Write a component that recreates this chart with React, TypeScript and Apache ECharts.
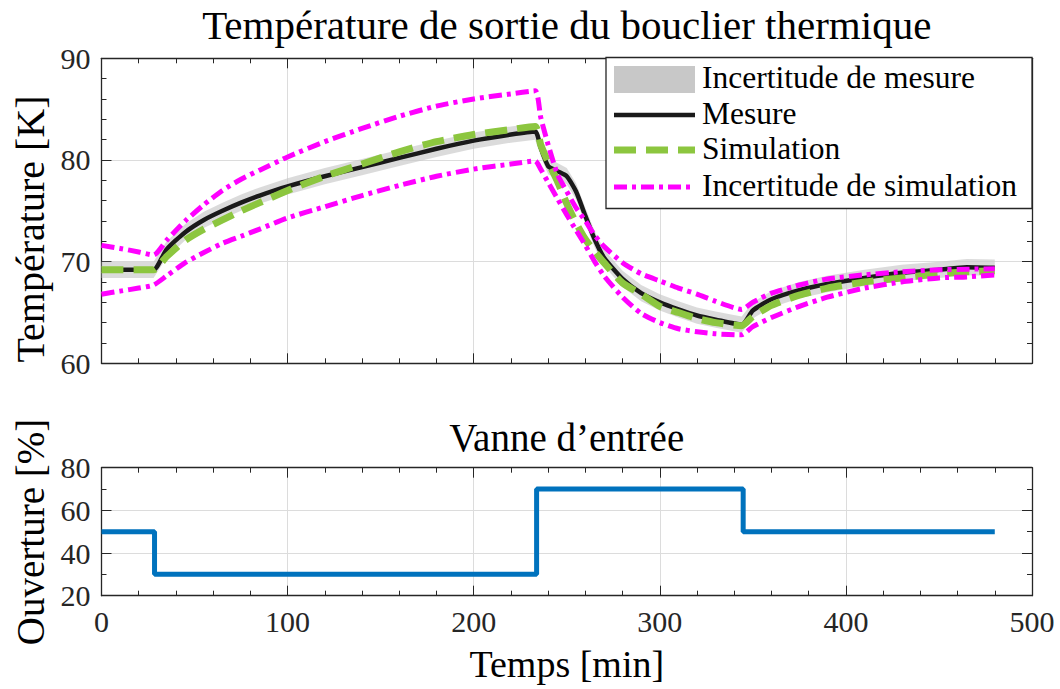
import React, { useEffect, useRef } from "react";
import * as echarts from "echarts";

// ---- Data ----
const times = [0, 10, 20, 28, 35, 45, 55, 65, 75, 85, 100, 120, 140, 160, 180, 200, 220, 233, 236, 240, 245, 250, 255, 260, 265, 270, 280, 290, 300, 310, 320, 330, 344, 350, 360, 375, 390, 410, 430, 450, 465, 480];
const measure = [69.2, 69.2, 69.2, 69.2, 71.2, 72.9, 74.1, 75.0, 75.8, 76.5, 77.4, 78.4, 79.3, 80.2, 81.1, 81.9, 82.5, 82.8, 81.2, 79.4, 78.9, 78.4, 76.9, 74.5, 72.2, 70.4, 68.3, 66.9, 66.0, 65.3, 64.7, 64.3, 63.8, 65.2, 66.3, 67.2, 67.8, 68.4, 68.9, 69.2, 69.45, 69.4];
const simulation = [69.2, 69.2, 69.2, 69.2, 70.5, 72.1, 73.2, 74.1, 75.0, 75.8, 77.0, 78.4, 79.6, 80.8, 81.8, 82.5, 83.0, 83.3, 81.5, 79.8, 77.9, 75.7, 73.8, 72.2, 71.0, 69.9, 67.9, 66.8, 65.6, 65.0, 64.4, 64.0, 63.7, 64.6, 65.7, 66.7, 67.4, 68.0, 68.4, 68.8, 69.0, 69.1];
const simUpper = [71.6, 71.3, 70.95, 70.65, 72.1, 74.0, 75.6, 77.0, 78.1, 79.0, 80.3, 81.8, 83.1, 84.3, 85.3, 86.0, 86.5, 86.8, 84.2, 81.5, 78.6, 76.9, 75.3, 74.0, 72.6, 71.5, 69.9, 68.8, 68.1, 67.4, 66.8, 66.1, 65.3, 66.0, 66.9, 67.7, 68.3, 68.7, 69.0, 69.2, 69.25, 69.3];
const simLower = [66.8, 67.1, 67.4, 67.7, 68.6, 69.9, 70.9, 71.8, 72.5, 73.2, 74.3, 75.4, 76.5, 77.5, 78.4, 79.1, 79.6, 79.9, 79.1, 77.8, 76.2, 74.6, 73.1, 71.6, 70.0, 68.6, 66.5, 64.9, 64.0, 63.4, 63.1, 62.9, 62.8, 63.6, 64.5, 65.6, 66.5, 67.4, 68.0, 68.4, 68.5, 68.7];
const measureUncertainty = 0.8; // ± K

const valveTimes = [0, 28.5, 233.8, 344.8, 480];
const valveOpening = [50, 30, 70, 50, 50];

const xTicks = [0, 100, 200, 300, 400, 500];
const tempTicks = [60, 70, 80, 90];
const openTicks = [20, 40, 60, 80];

const legendLabels = ["Incertitude de mesure", "Mesure", "Simulation", "Incertitude de simulation"];
const topTitle = "Température de sortie du bouclier thermique";
const bottomTitle = "Vanne d\u2019entrée";
const tempName = "Température [K]";
const openName = "Ouverture [%]";
const timeName = "Temps [min]";

// ---- Styles ----
const FONT = '"Liberation Serif", "Times New Roman", serif';
const AXIS = "#262626";
const GRIDC = "#dcdcdc";
const BLACK = "#1a1a1a";
const GREEN = "#8cc63f";
const MAGENTA = "#ff00ff";
const BLUE = "#0072bd";
const BAND = "#c8c8c8";
const GREEN_DASH = [22, 10];
const MAG_DASH = [13, 5, 4, 5];

const pairs = (xs: number[], ys: number[]) => xs.map((t, i) => [t, ys[i]]);

export default function App() {
  const ref = useRef<HTMLDivElement>(null);
  useEffect(() => {
    if (!ref.current) return;
    const chart = echarts.init(ref.current, null, { renderer: "svg" });

    const L = 101.5, R = 1032, W = R - L;
    const g0 = { top: 58.3, h: 305 };
    const g1 = { top: 467.7, h: 128 };

    const xBase = (gi: number, pos: string, labels: boolean, split: boolean) => ({
      type: "value",
      gridIndex: gi,
      position: pos,
      min: xTicks[0],
      max: xTicks[xTicks.length - 1],
      interval: 100,
      axisLine: { show: true, onZero: false, lineStyle: { color: AXIS, width: 1.3 } },
      axisTick: { show: true, inside: true, length: 10, lineStyle: { color: AXIS, width: 1 } },
      minorTick: { show: true, splitNumber: 5, length: 5, lineStyle: { color: AXIS, width: 1 } },
      splitLine: { show: split, lineStyle: { color: GRIDC, width: 1 } },
      axisLabel: labels
        ? { show: true, fontFamily: FONT, fontSize: 30, color: AXIS, margin: 11 }
        : { show: false },
    });
    const yBase = (gi: number, pos: string, labels: boolean, split: boolean, ticks: number[], interval: number, minorSplit: number) => ({
      type: "value",
      gridIndex: gi,
      position: pos,
      min: ticks[0],
      max: ticks[ticks.length - 1],
      interval,
      axisLine: { show: true, onZero: false, lineStyle: { color: AXIS, width: 1.3 } },
      axisTick: { show: true, inside: true, length: 10, lineStyle: { color: AXIS, width: 1 } },
      minorTick: { show: true, splitNumber: minorSplit, length: 5, lineStyle: { color: AXIS, width: 1 } },
      splitLine: { show: split, lineStyle: { color: GRIDC, width: 1 } },
      axisLabel: labels
        ? { show: true, fontFamily: FONT, fontSize: 30, color: AXIS, margin: 11 }
        : { show: false },
    });

    const lineSeries = (name: string, ys: number[], color: string, width: number, type: any, z: number) => ({
      name,
      type: "line",
      xAxisIndex: 0,
      yAxisIndex: 0,
      data: pairs(times, ys),
      symbol: "none",
      smooth: 0.2,
      z,
      lineStyle: { color, width, type, cap: "butt", join: "round" },
    });

    const legendX0 = 614, legendX1 = 695, legendTextX = 702;
    const rowY = [79.5, 115, 150, 187];
    const txt = (text: string, x: number, y: number, size: number, opts: any = {}) => ({
      type: "text",
      x,
      y,
      z: 100,
      ...opts,
      style: { text, font: `${size}px ${FONT}`, fill: "#000", textAlign: opts.align || "center", textVerticalAlign: "middle" },
    });

    const option: any = {
      animation: false,
      grid: [
        { left: L, top: g0.top, width: W, height: g0.h },
        { left: L, top: g1.top, width: W, height: g1.h },
      ],
      xAxis: [
        xBase(0, "bottom", false, true),
        xBase(0, "top", false, false),
        xBase(1, "bottom", true, true),
        xBase(1, "top", false, false),
      ],
      yAxis: [
        yBase(0, "left", true, true, tempTicks, 10, 5),
        yBase(0, "right", false, false, tempTicks, 10, 5),
        yBase(1, "left", true, true, openTicks, 20, 2),
        yBase(1, "right", false, false, openTicks, 20, 2),
      ],
      series: [
        {
          name: legendLabels[0],
          type: "custom",
          coordinateSystem: "cartesian2d",
          xAxisIndex: 0,
          yAxisIndex: 0,
          data: [[times[0], measure[0]]],
          z: 1,
          renderItem: (_params: any, api: any) => {
            const up = times.map((t, i) => api.coord([t, measure[i] + measureUncertainty]));
            const lo = times.map((t, i) => api.coord([t, measure[i] - measureUncertainty])).reverse();
            return {
              type: "polygon",
              shape: { points: up.concat(lo) },
              style: { fill: BAND, opacity: 0.65 },
            };
          },
        },
        lineSeries(legendLabels[1], measure, BLACK, 4.5, "solid", 3),
        lineSeries(legendLabels[2], simulation, GREEN, 7, GREEN_DASH, 4),
        lineSeries(legendLabels[3], simUpper, MAGENTA, 5, MAG_DASH, 5),
        lineSeries(legendLabels[3] + " ", simLower, MAGENTA, 5, MAG_DASH, 5),
        {
          name: "Vanne",
          type: "line",
          xAxisIndex: 2,
          yAxisIndex: 2,
          data: pairs(valveTimes, valveOpening),
          step: "end",
          symbol: "none",
          lineStyle: { color: BLUE, width: 5 },
          z: 3,
        },
      ],
      graphic: [
        txt(topTitle, (L + R) / 2, 25, 41),
        txt(bottomTitle, (L + R) / 2, 437, 39),
        txt(timeName, (L + R) / 2, 664, 38),
        txt(tempName, 30, 229, 40, { rotation: Math.PI / 2 }),
        txt(openName, 30, 532, 39, { rotation: Math.PI / 2 }),
        // Legend
        {
          type: "rect",
          z: 100,
          shape: { x: 606, y: 57.5, width: 426, height: 151 },
          style: { fill: "#fff", stroke: AXIS, lineWidth: 1.3 },
        },
        {
          type: "rect",
          z: 101,
          shape: { x: legendX0, y: 66, width: legendX1 - legendX0, height: 27 },
          style: { fill: BAND },
        },
        {
          type: "line",
          z: 101,
          shape: { x1: legendX0, y1: rowY[1], x2: legendX1, y2: rowY[1] },
          style: { stroke: BLACK, lineWidth: 4.5 },
        },
        {
          type: "line",
          z: 101,
          shape: { x1: legendX0, y1: rowY[2], x2: legendX1, y2: rowY[2] },
          style: { stroke: GREEN, lineWidth: 7, lineDash: GREEN_DASH },
        },
        {
          type: "line",
          z: 101,
          shape: { x1: legendX0, y1: rowY[3], x2: legendX1, y2: rowY[3] },
          style: { stroke: MAGENTA, lineWidth: 5, lineDash: MAG_DASH },
        },
        ...legendLabels.map((t, i) => ({ ...txt(t, legendTextX, rowY[i] - 2, 31.5, { align: "left" }), z: 101 })),
      ],
    };

    chart.setOption(option);
    return () => chart.dispose();
  }, []);

  return <div ref={ref} style={{ position: "absolute", left: 0, top: 0, width: 1060, height: 689, background: "#fff" }} />;
}
